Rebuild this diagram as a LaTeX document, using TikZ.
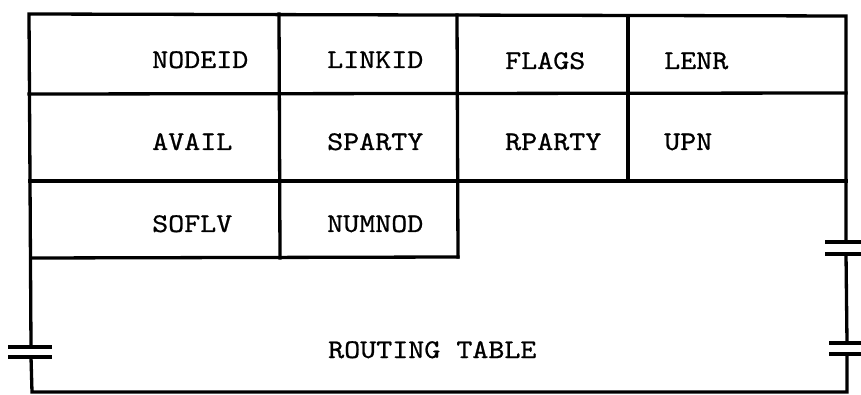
\documentclass[tikz,border=0pt]{standalone}
\usepackage{graphicx}
\usepackage{fontspec}
\setmonofont{lmmono10-regular.otf}[FakeBold=0.7]
\begin{document}
\begin{tikzpicture}[x=1pt,y=-1pt,
  rule/.style={line width=3.3pt, line cap=rect, line join=miter},
  brk/.style={line width=3.3pt},
  lbl/.style={anchor=base west, inner sep=0pt, font=\fontsize{27}{30}\selectfont\ttfamily}]
\useasboundingbox (0,0) rectangle (861,395);
% outer frame with break marks
\draw[rule] (31,347) -- (29,14) -- (846,16) -- (846,242);
\draw[rule] (846,254) -- (847,343);
\draw[rule] (847,354) -- (847,392) -- (32,392) -- (31,357);
\draw[brk] (8,347) -- (52,347);
\draw[brk] (8,357) -- (52,357);
\draw[brk] (825,242) -- (861,242);
\draw[brk] (825,254) -- (861,254);
\draw[brk] (829,343) -- (861,343);
\draw[brk] (829,354) -- (861,354);
% rows
\draw[rule] (29,94) -- (846,93);
\draw[rule] (30,181) -- (846,181);
\draw[rule] (31,258) -- (458,257);
% columns
\draw[rule] (279,14) -- (280,258);
\draw[rule] (457,15) -- (458,257);
\draw[rule] (628,16) -- (628,181);
% labels
\node[lbl] (nodeid) at (152,68) {\scalebox{1.13}[1]{NODEID}};
\node[lbl] (linkid) at (327,68) {\scalebox{1.13}[1]{LINKID}};
\node[lbl] (flags) at (505,69) {\scalebox{1.13}[1]{FLAGS}};
\node[lbl] (lenr) at (664,69) {\scalebox{1.13}[1]{LENR}};
\node[lbl] (avail) at (152,150) {\scalebox{1.13}[1]{AVAIL}};
\node[lbl] (sparty) at (327,150) {\scalebox{1.13}[1]{SPARTY}};
\node[lbl] (rparty) at (505,150) {\scalebox{1.13}[1]{RPARTY}};
\node[lbl] (upn) at (664,150) {\scalebox{1.13}[1]{UPN}};
\node[lbl] (soflv) at (152,232) {\scalebox{1.13}[1]{SOFLV}};
\node[lbl] (numnod) at (327,232) {\scalebox{1.13}[1]{NUMNOD}};
\node[lbl] (rtable) at (328,358) {\scalebox{1.13}[1]{ROUTING TABLE}};
\end{tikzpicture}
\end{document}
